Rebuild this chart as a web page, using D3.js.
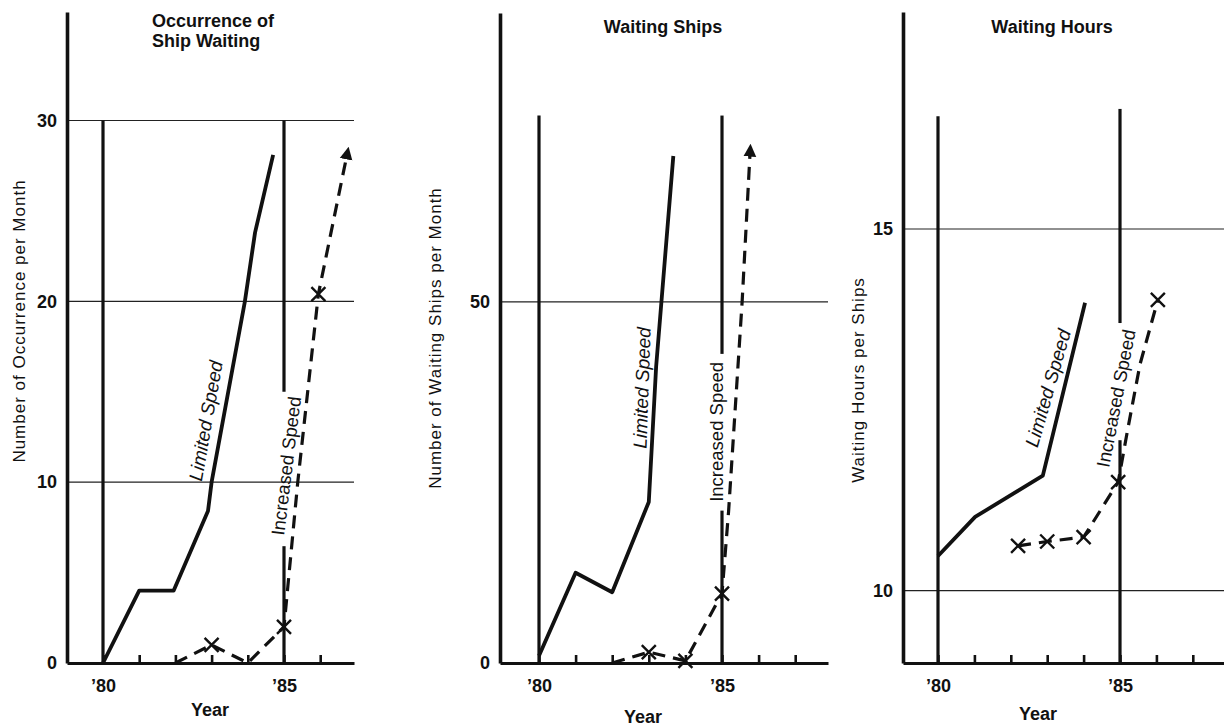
<!DOCTYPE html>
<html>
<head>
<meta charset="utf-8">
<script src="https://cdn.jsdelivr.net/npm/d3@7"></script>
<style>
    body { margin: 0; background: #fff; }
    svg { display: block; background: #fff; }
    text { font-family: "Liberation Sans", Arial, sans-serif; fill: #111; }
</style>
</head>
<body>
<svg id="chart"></svg>
<script>
document.addEventListener("DOMContentLoaded", function () {

    // ================================
    // DATA
    // ================================
    const refYears = [80, 85];
    const yearTicks = [80, 81, 82, 83, 84, 85, 86, 87];
    const labelledYears = [80, 85];

    // panel 1 - occurrence of ship waiting
    const occTicks = [0, 10, 20, 30];
    const occLimitedYears = [80, 81, 81.95, 82.9, 83.0, 83.92, 84.2, 84.7];
    const occLimitedValues = [0, 4, 4, 8.4, 10, 20, 23.8, 28.1];
    const occIncreasedYears = [82, 83, 84, 85, 85.38, 85.95, 86.75];
    const occIncreasedValues = [0, 1, 0, 2, 10, 20.4, 28.2];
    const occMarks = [83, 85, 85.95];

    // panel 2 - waiting ships
    const shipTicks = [0, 50];
    const shipLimitedYears = [80, 81, 82, 83, 83.2, 83.67];
    const shipLimitedValues = [1, 12.5, 9.8, 22.3, 41, 70.2];
    const shipIncreasedYears = [82, 83, 84, 85, 85.18, 85.55, 85.77];
    const shipIncreasedValues = [0, 1.5, 0.3, 9.6, 21, 50, 71];
    const shipMarks = [83, 84, 85];

    // panel 3 - waiting hours
    const hourTicks = [10, 15];
    const hourLimitedYears = [80, 81.02, 82.88, 84.04];
    const hourLimitedValues = [10.48, 11.02, 11.59, 13.98];
    const hourIncreasedYears = [82.2, 83, 84, 84.95, 85.19, 85.55, 86.04];
    const hourIncreasedValues = [10.62, 10.68, 10.74, 11.5, 12.17, 13.13, 14.02];
    const hourMarks = [82.2, 83, 84, 84.95, 86.04];

    const zip = (xs, ys) => xs.map((x, i) => [x, ys[i]]);

    // ================================
    // LAYOUT PER PANEL
    // ================================
    const width = 1224;
    const height = 728;
    const axisY = 663;

    const panels = [
        {
            title: ["Occurrence of", "Ship Waiting"], titleX: 152, titleAnchor: "start", titleY: [27, 47],
            yLabel: "Number of Occurrence per Month", yLabelX: 25, yLabelY: 321,
            axisX: 67, x80: 103, x85: 284, xEnd: 354, yTop: 12, yDomain: [0, 36],
            ticks: occTicks, grid: [10, 20, 30],
            limited: zip(occLimitedYears, occLimitedValues),
            increased: zip(occIncreasedYears, occIncreasedValues),
            marks: occMarks, arrow: true,
            ref80: [0, 30], ref85: [[15, 30], [0, 6.46]],
            limLabel: [82.84, 13.4, -80], incLabel: [85.06, 10.9, -83],
            yearX: 210, yearY: 716
        },
        {
            title: ["Waiting Ships"], titleX: 663, titleAnchor: "middle", titleY: [33],
            yLabel: "Number of Waiting Ships per Month", yLabelX: 441, yLabelY: 338,
            axisX: 500, x80: 539, x85: 722, xEnd: 828, yTop: 13, yDomain: [0, 90],
            ticks: shipTicks, grid: [50],
            limited: zip(shipLimitedYears, shipLimitedValues),
            increased: zip(shipIncreasedYears, shipIncreasedValues),
            marks: shipMarks, arrow: true,
            ref80: [0, 75.8], ref85: [[42.8, 75.8], [0, 21.1]],
            limLabel: [82.81, 38.1, -88], incLabel: [84.84, 32.0, -90],
            yearX: 643, yearY: 723
        },
        {
            title: ["Waiting Hours"], titleX: 1052, titleAnchor: "middle", titleY: [33],
            yLabel: "Waiting Hours per Ships", yLabelX: 864, yLabelY: 380,
            axisX: 903, x80: 938, x85: 1120, xEnd: 1224, yTop: 12, yDomain: [9, 18],
            ticks: hourTicks, grid: [10, 15],
            limited: zip(hourLimitedYears, hourLimitedValues),
            increased: zip(hourIncreasedYears, hourIncreasedValues),
            marks: hourMarks, arrow: false,
            ref80: [9, 16.56], ref85: [[13.7, 16.66], [9, 12.08]],
            limLabel: [83.02, 12.8, -74], incLabel: [84.89, 12.66, -79],
            yearX: 1038, yearY: 720
        }
    ];

    const svg = d3.select("#chart")
        .attr("width", width)
        .attr("height", height);

    svg.append("defs").append("marker")
        .attr("id", "arrow")
        .attr("viewBox", "0 0 10 10")
        .attr("refX", 5).attr("refY", 5)
        .attr("markerWidth", 4).attr("markerHeight", 5)
        .attr("orient", "auto")
        .attr("markerUnits", "strokeWidth")
        .append("path")
        .attr("d", "M0,0 L10,5 L0,10 Z")
        .attr("fill", "#111");

    panels.forEach(drawPanel);

    function drawPanel(p) {
        const g = svg.append("g");

        // x scale anchored on the '80 and '85 positions
        const x = d3.scaleLinear().domain([80, 85]).range([p.x80, p.x85]);
        x.domain([x.invert(p.axisX), x.invert(p.xEnd)]).range([p.axisX, p.xEnd]);
        const y = d3.scaleLinear().domain(p.yDomain).range([axisY, p.yTop]);

        // gridlines
        g.selectAll("line.grid")
            .data(p.grid)
            .join("line")
            .attr("class", "grid")
            .attr("x1", p.axisX).attr("x2", p.xEnd)
            .attr("y1", d => y(d)).attr("y2", d => y(d))
            .attr("stroke", "#222")
            .attr("stroke-width", 1.2);

        // reference year lines ('80 and '85)
        const refSegs = [
            { year: refYears[0], lo: p.ref80[0], hi: p.ref80[1] },
            { year: refYears[1], lo: p.ref85[0][0], hi: p.ref85[0][1] },
            { year: refYears[1], lo: p.ref85[1][0], hi: p.ref85[1][1] }
        ];
        g.selectAll("line.ref")
            .data(refSegs)
            .join("line")
            .attr("class", "ref")
            .attr("x1", d => x(d.year)).attr("x2", d => x(d.year))
            .attr("y1", d => y(d.lo)).attr("y2", d => y(d.hi))
            .attr("stroke", "#111")
            .attr("stroke-width", 3.2);

        // x axis
        const xAxis = d3.axisBottom(x)
            .tickValues(yearTicks.filter(d => d <= x.domain()[1]))
            .tickSize(-8)
            .tickSizeOuter(0)
            .tickPadding(16)
            .tickFormat(d => labelledYears.includes(d) ? "\u2019" + d : "");

        const gx = g.append("g")
            .attr("transform", `translate(0, ${axisY})`)
            .call(xAxis);
        gx.select(".domain").attr("stroke", "#111").attr("stroke-width", 2.8);
        gx.selectAll(".tick line").attr("stroke", "#111").attr("stroke-width", 2.6);
        gx.selectAll(".tick text")
            .attr("font-family", "Liberation Sans, Arial, sans-serif")
            .attr("font-size", "18px")
            .attr("font-weight", "bold")
            .attr("fill", "#111");

        // y axis
        const yAxis = d3.axisLeft(y)
            .tickValues(p.ticks)
            .tickSize(0)
            .tickSizeOuter(0)
            .tickPadding(10);

        const gy = g.append("g")
            .attr("transform", `translate(${p.axisX}, 0)`)
            .call(yAxis);
        gy.select(".domain").attr("stroke", "#111").attr("stroke-width", 3.6);
        gy.selectAll(".tick text")
            .attr("font-family", "Liberation Sans, Arial, sans-serif")
            .attr("font-size", "18px")
            .attr("font-weight", "bold")
            .attr("fill", "#111");

        // series lines
        const line = d3.line().x(d => x(d[0])).y(d => y(d[1]));

        g.append("path")
            .datum(p.limited)
            .attr("d", line)
            .attr("fill", "none")
            .attr("stroke", "#111")
            .attr("stroke-width", 3.8)
            .attr("stroke-linejoin", "round");

        const inc = g.append("path")
            .datum(p.increased)
            .attr("d", line)
            .attr("fill", "none")
            .attr("stroke", "#111")
            .attr("stroke-width", 3.2)
            .attr("stroke-dasharray", "13,8");
        if (p.arrow) inc.attr("marker-end", "url(#arrow)");

        // x markers on the increased speed series
        const markPts = p.increased.filter(d => p.marks.includes(d[0]));
        g.selectAll("path.mark")
            .data(markPts)
            .join("path")
            .attr("class", "mark")
            .attr("transform", d => `translate(${x(d[0])}, ${y(d[1])})`)
            .attr("d", "M-7,-7L7,7M-7,7L7,-7")
            .attr("stroke", "#111")
            .attr("stroke-width", 2.4);

        // annotations
        g.append("text")
            .attr("transform", `translate(${x(p.limLabel[0])}, ${y(p.limLabel[1])}) rotate(${p.limLabel[2]})`)
            .attr("text-anchor", "middle")
            .attr("dy", "0.35em")
            .attr("font-size", "19px")
            .attr("font-style", "italic")
            .text("Limited Speed");

        g.append("text")
            .attr("transform", `translate(${x(p.incLabel[0])}, ${y(p.incLabel[1])}) rotate(${p.incLabel[2]})`)
            .attr("text-anchor", "middle")
            .attr("dy", "0.35em")
            .attr("font-size", "18.5px")
            .text("Increased Speed");

        // titles
        g.selectAll("text.title")
            .data(p.title)
            .join("text")
            .attr("class", "title")
            .attr("x", p.titleX)
            .attr("y", (d, i) => p.titleY[i])
            .attr("text-anchor", p.titleAnchor)
            .attr("font-size", "18px")
            .attr("font-weight", "bold")
            .text(d => d);

        // axis titles
        g.append("text")
            .attr("transform", `translate(${p.yLabelX}, ${p.yLabelY}) rotate(-90)`)
            .attr("text-anchor", "middle")
            .attr("font-size", "17px")
            .attr("letter-spacing", "1px")
            .text(p.yLabel);

        g.append("text")
            .attr("x", p.yearX)
            .attr("y", p.yearY)
            .attr("text-anchor", "middle")
            .attr("font-size", "18px")
            .attr("font-weight", "bold")
            .text("Year");
    }
});
</script>
</body>
</html>
